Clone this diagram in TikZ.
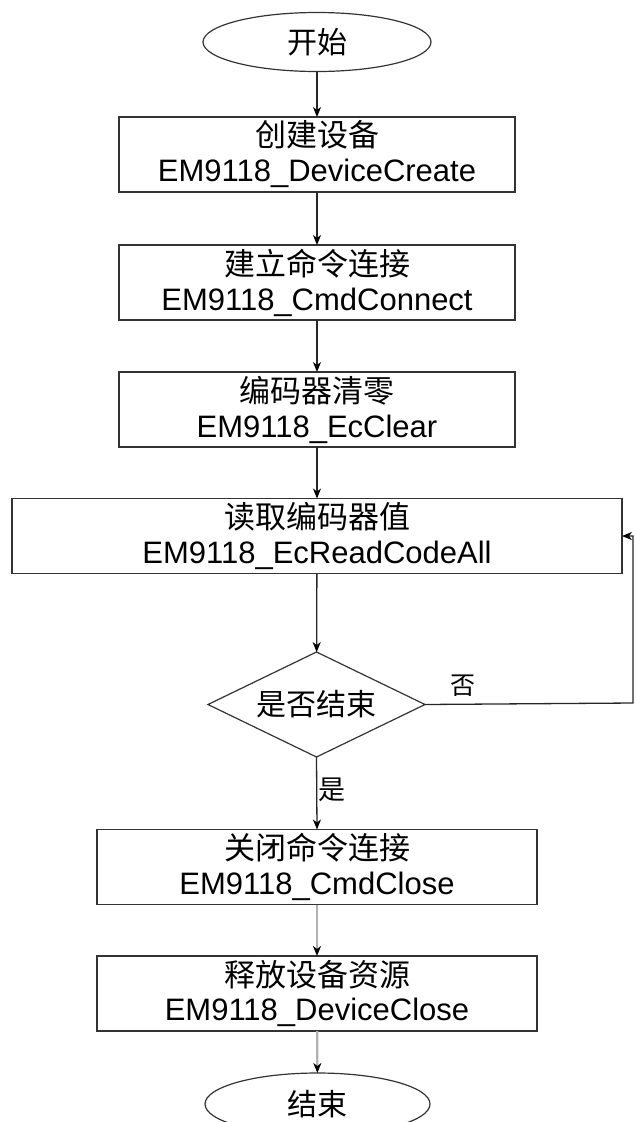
\documentclass[tikz,border=0pt]{standalone}
\usepackage{fontspec}
\setmainfont{Liberation Sans}
\newfontfamily\cjk{Noto Sans CJK SC}
\usetikzlibrary{shapes.geometric,arrows.meta}

\tikzset{
  every node/.style={inner sep=0pt, outer sep=0pt},
  stepbox/.style={draw=black!80, line width=1.5pt, rectangle, minimum height=75pt,
    align=center, font=\fontsize{31}{35}\selectfont},
  terminal/.style={draw=black!80, line width=1.2pt, ellipse, minimum width=228pt,
    minimum height=59pt, font=\fontsize{30}{34}\selectfont\cjk},
  decision/.style={draw=black!80, line width=1.2pt, diamond, aspect=2.07,
    minimum width=217pt, minimum height=105pt, font=\fontsize{30}{34}\selectfont\cjk},
  flow/.style={draw=black!85, line width=1.3pt,
    -{Stealth[length=10pt,width=8pt,inset=3pt,color=black]}},
  flowgray/.style={draw=black!30, line width=2.2pt,
    -{Stealth[length=10pt,width=8pt,inset=3pt,color=black]}},
  tag/.style={font=\fontsize{27}{30}\selectfont\cjk}
}

\begin{document}
\begin{tikzpicture}[x=1pt, y=-1pt]
  \useasboundingbox (0,0) rectangle (635,1122);

  \node[terminal] (start) at (317,42) {开始};
  \node[stepbox, minimum width=396pt] (create) at (317,154.5)
    {{\cjk 创建设备}\\EM9118\_DeviceCreate};
  \node[stepbox, minimum width=396pt] (connect) at (317,282.5)
    {{\cjk 建立命令连接}\\EM9118\_CmdConnect};
  \node[stepbox, minimum width=396pt] (clear) at (317,409.5)
    {{\cjk 编码器清零}\\EM9118\_EcClear};
  \node[stepbox, minimum width=610pt] (read) at (317,536)
    {{\cjk 读取编码器值}\\EM9118\_EcReadCodeAll};
  \node[decision] (done) at (316.5,704.5) {是否结束};
  \node[stepbox, minimum width=440pt] (close) at (317,867)
    {{\cjk 关闭命令连接}\\EM9118\_CmdClose};
  \node[stepbox, minimum width=440pt] (release) at (317,993.5)
    {{\cjk 释放设备资源}\\EM9118\_DeviceClose};
  \node[terminal, minimum width=225pt, minimum height=62pt] (stop) at (317.5,1104) {结束};

  \draw[flow] (start) -- (create);
  \draw[flow] (create) -- (connect);
  \draw[flow] (connect) -- (clear);
  \draw[flow] (clear) -- (read);
  \draw[flow] (read) -- (done);
  \draw[flow] (done.south) -- (close.north)
    node[tag, pos=0.45, right=2pt] {是};
  \draw[flowgray] (close) -- (release);
  \draw[flowgray] (release) -- (stop);

  % loop back from the decision to the read step
  \coordinate (loopR) at (633,703);
  \draw[flow] (done.east) -- (loopR) |- (read.east);
  \node[tag, font=\fontsize{25}{28}\selectfont\cjk] (no) at (463,686) {否};
\end{tikzpicture}
\end{document}
